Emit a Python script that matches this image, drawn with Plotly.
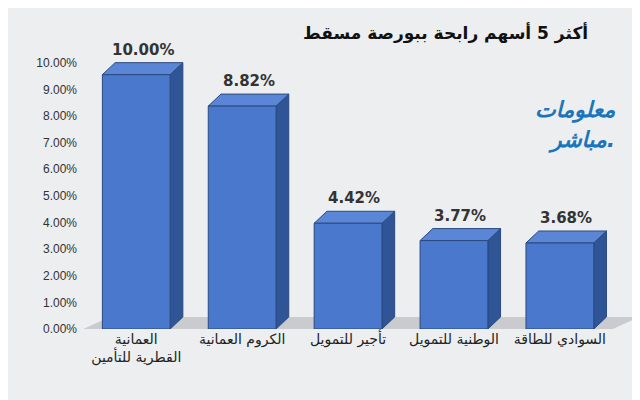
import plotly.graph_objects as go

categories = ["العمانية<br>القطرية للتأمين", "الكروم العمانية", "تأجير للتمويل", "الوطنية للتمويل", "السوادي للطاقة"]
values = [10.00, 8.82, 4.42, 3.77, 3.68]
value_labels = ["10.00%", "8.82%", "4.42%", "3.77%", "3.68%"]
yticks = [i for i in range(0, 11)]
yticklabels = [f"{i}.00%" for i in range(0, 11)]

w = 0.64
dx, d = 0.12, 0.45

fig = go.Figure()
n = len(categories)
fig.add_trace(go.Scatter(x=[-0.5, n - 0.5, n - 0.5 + 0.25, -0.5 + 0.25, -0.5], y=[0, 0, d, d, 0],
                         fill="toself", fillcolor="#c9cbce", line=dict(width=0), mode="lines", hoverinfo="skip"))
for i, v in enumerate(values):
    fv = v - d
    fig.add_trace(go.Scatter(x=[i + w/2, i + w/2 + dx, i + w/2 + dx, i + w/2, i + w/2],
                             y=[0, d, fv + d, fv, 0],
                             fill="toself", fillcolor="#2f5597", line=dict(color="#2a4a80", width=1),
                             mode="lines", hoverinfo="skip"))
    fig.add_trace(go.Scatter(x=[i - w/2, i + w/2, i + w/2 + dx, i - w/2 + dx, i - w/2],
                             y=[fv, fv, fv + d, fv + d, fv],
                             fill="toself", fillcolor="#5b86d6", line=dict(color="#2a4a80", width=1),
                             mode="lines", hoverinfo="skip"))
    fig.add_trace(go.Scatter(x=[i - w/2, i + w/2, i + w/2, i - w/2, i - w/2],
                             y=[0, 0, fv, fv, 0],
                             fill="toself", fillcolor="#4a78cc", line=dict(color="#2a4a80", width=1),
                             mode="lines", hoverinfo="skip"))
    fig.add_annotation(x=i + dx/2, y=v, text=value_labels[i], showarrow=False, yanchor="bottom", yshift=2,
                       font=dict(size=15, color="#333", family="DejaVu Sans", weight="bold"))

fig.add_annotation(xref="paper", yref="paper", x=0.92, y=1.15, text="أكثر 5 أسهم رابحة ببورصة مسقط",
                   showarrow=False, xanchor="right", font=dict(size=17, color="#111", family="DejaVu Sans", weight="bold"))
fig.add_annotation(xref="paper", yref="paper", x=0.97, y=0.87, text="<i>معلومات</i>", showarrow=False,
                   xanchor="right", font=dict(size=22, color="#1b75bc", family="DejaVu Sans", weight="bold"))
fig.add_annotation(xref="paper", yref="paper", x=0.97, y=0.76, text="<i>مباشر.</i>", showarrow=False,
                   xanchor="right", font=dict(size=22, color="#1b75bc", family="DejaVu Sans", weight="bold"))

fig.update_layout(
    width=640, height=400, showlegend=False,
    margin=dict(l=70, r=14, t=52, b=79),
    paper_bgcolor="#eceef0", plot_bgcolor="rgba(0,0,0,0)",
    xaxis=dict(range=[-0.55, n - 0.3], tickvals=list(range(n)), ticktext=categories, showgrid=False,
               zeroline=False, tickfont=dict(size=14, color="#222", family="DejaVu Sans")),
    yaxis=dict(range=[0, 10.1], tickvals=yticks, ticktext=yticklabels, showgrid=False, zeroline=False,
               tickfont=dict(size=12, color="#333", family="Liberation Sans")),
)
fig.write_html("out.html")
